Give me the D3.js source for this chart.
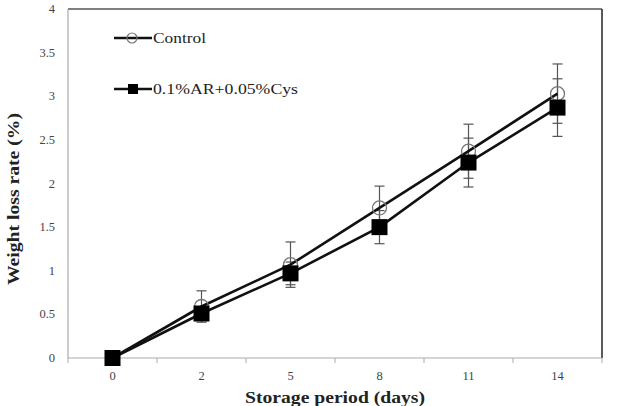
<!DOCTYPE html>
<html><head><meta charset="utf-8">
<script src="https://cdn.jsdelivr.net/npm/d3@7"></script>
<style>body{margin:0;background:#fff}svg{display:block}</style>
</head><body>
<svg id="c" width="620" height="406"></svg>
<script>
const days = ["0","2","5","8","11","14"];
const controlVals = [0, 0.59, 1.07, 1.72, 2.37, 3.03];
const controlErr  = [0, 0.18, 0.26, 0.25, 0.31, 0.34];
const treatVals   = [0, 0.51, 0.97, 1.50, 2.24, 2.87];
const treatErr    = [0, 0.04, 0.13, 0.19, 0.28, 0.33];
const yTicks = [0, 0.5, 1, 1.5, 2, 2.5, 3, 3.5, 4];
const seriesNames = ["Control", "0.1%AR+0.05%Cys"];

const FONT = '"Liberation Serif"';
const svg = d3.select("#c");
const m = {l:68, r:602, t:9, b:358};
const x = d3.scaleBand().domain(days).range([m.l, m.r]);
const y = d3.scaleLinear().domain([0,4]).range([m.b, m.t]);

// frame
svg.append("line").attr("x1",m.l).attr("x2",m.r).attr("y1",m.t).attr("y2",m.t).attr("stroke","#555").attr("stroke-width",1.5);
svg.append("line").attr("x1",m.r).attr("x2",m.r).attr("y1",m.t).attr("y2",m.b).attr("stroke","#222").attr("stroke-width",1.5);
svg.append("line").attr("x1",m.l).attr("x2",m.l).attr("y1",m.t).attr("y2",m.b).attr("stroke","#aaa").attr("stroke-width",1.2);

// x axis
const xa = svg.append("g").attr("transform",`translate(0,${m.b})`);
xa.append("line").attr("x1",m.l).attr("x2",m.r).attr("stroke","#aaa").attr("stroke-width",1.2);
const bounds = days.map(d=>x(d)).concat([m.r]);
xa.selectAll("line.t").data(bounds).join("line").attr("class","t")
  .attr("x1",d=>d).attr("x2",d=>d).attr("y1",0).attr("y2",5).attr("stroke","#aaa");
xa.selectAll("text").data(days).join("text")
  .attr("x",d=>x(d)+x.bandwidth()/2).attr("y",22).attr("text-anchor","middle")
  .style("font-family",FONT).style("font-size","12.5px").attr("fill","#444").text(d=>d);

// y axis labels
svg.append("g").selectAll("text").data(yTicks).join("text")
  .attr("x",55).attr("y",d=>y(d)+4).attr("text-anchor","end")
  .style("font-family",FONT).style("font-size","12.5px").attr("fill","#444").text(d=>d);

// titles
svg.append("text").attr("x",245).attr("y",403)
  .attr("textLength",180).attr("lengthAdjust","spacingAndGlyphs")
  .style("font-family",FONT).style("font-size","17.5px").style("font-weight","bold").attr("fill","#222")
  .text("Storage period (days)");
svg.append("text").attr("transform","translate(19,285) rotate(-90)")
  .attr("textLength",172).attr("lengthAdjust","spacingAndGlyphs")
  .style("font-family",FONT).style("font-size","17.5px").style("font-weight","bold").attr("fill","#222")
  .text("Weight loss rate (%)");

const cx = d => x(d)+x.bandwidth()/2;
const series = [
  {name:seriesNames[0], vals:controlVals, err:controlErr, marker:"circle", tl:53},
  {name:seriesNames[1], vals:treatVals, err:treatErr, marker:"square", tl:145}
];
// error bars
series.forEach(s=>{
  const g = svg.append("g").attr("stroke","#555").attr("stroke-width",1.2);
  days.forEach((d,i)=>{
    if(!s.err[i]) return;
    const X = cx(d), y1=y(s.vals[i]+s.err[i]), y2=y(s.vals[i]-s.err[i]);
    g.append("line").attr("x1",X).attr("x2",X).attr("y1",y1).attr("y2",y2);
    g.append("line").attr("x1",X-5).attr("x2",X+5).attr("y1",y1).attr("y2",y1);
    g.append("line").attr("x1",X-5).attr("x2",X+5).attr("y1",y2).attr("y2",y2);
  });
});
// lines
const line = d3.line().x((v,i)=>cx(days[i])).y(v=>y(v));
series.forEach(s=>{
  svg.append("path").attr("d",line(s.vals)).attr("fill","none").attr("stroke","#111").attr("stroke-width",2.6);
});
// markers
function marker(g, type, X, Y){
  if(type==="circle") g.append("circle").attr("cx",X).attr("cy",Y).attr("r",7).attr("fill","none").attr("stroke","#777").attr("stroke-width",1.3);
  else g.append("rect").attr("x",X-8).attr("y",Y-8).attr("width",16).attr("height",16).attr("fill","#000");
}
series.forEach(s=>{
  const g = svg.append("g");
  s.vals.forEach((v,i)=>marker(g, s.marker, cx(days[i]), y(v)));
});

// legend
const lg = svg.append("g");
series.forEach((s,i)=>{
  const Y = [38, 89][i];
  lg.append("line").attr("x1",114).attr("x2",152).attr("y1",Y).attr("y2",Y).attr("stroke","#111").attr("stroke-width",2.6);
  if(s.marker==="circle") lg.append("circle").attr("cx",132).attr("cy",Y).attr("r",5).attr("fill","none").attr("stroke","#777").attr("stroke-width",1.2);
  else lg.append("rect").attr("x",128).attr("y",Y-5).attr("width",10).attr("height",10).attr("fill","#000");
  lg.append("text").attr("x",153).attr("y",Y+5)
    .attr("textLength",s.tl).attr("lengthAdjust","spacingAndGlyphs")
    .style("font-family",FONT).style("font-size","15px").attr("fill","#222").text(s.name);
});
</script>
</body></html>
